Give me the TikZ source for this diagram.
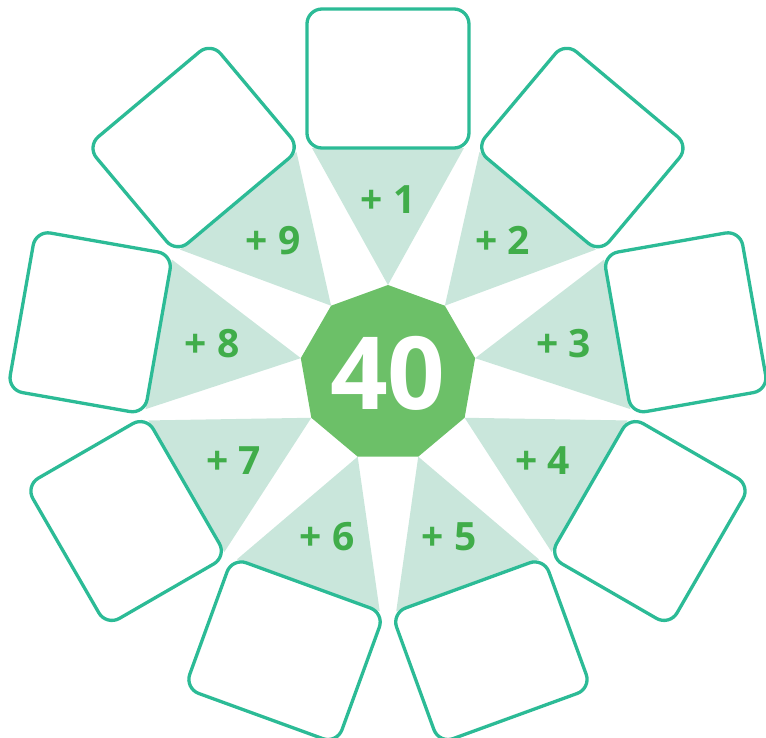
\documentclass[tikz,border=0pt]{standalone}
\usepackage{fontspec}
\setmainfont{Open Sans}
\usepackage{tikz}
\usetikzlibrary{calc, backgrounds, shapes.geometric}

\definecolor{slotteal}{HTML}{2CBB96}
\definecolor{wedgemint}{HTML}{C9E6DB}
\definecolor{hubgreen}{HTML}{6CC068}
\definecolor{taggreen}{HTML}{40AD4A}

\tikzset{
    slot/.style={draw=slotteal, fill=white, line width=3.3pt, rounded corners=15pt,
        minimum width=162pt, minimum height=139pt, inner sep=0pt, outer sep=0pt},
    wedge/.style={fill=wedgemint},
    hub/.style={regular polygon, regular polygon sides=9, minimum size=177pt,
        fill=hubgreen, text=white, inner sep=0pt, outer sep=0pt,
        font=\fontsize{101}{101}\selectfont\bfseries},
    tag/.style={text=taggreen, font=\fontsize{39}{39}\selectfont\bfseries}
}

\begin{document}
\begin{tikzpicture}[x=1.025pt, y=1pt]
    \useasboundingbox (-378.5,-363.5) rectangle (368.8,373.5);
    \node[hub] (hub) at (0,0) {40};
    \foreach \k in {1,...,9} {
        \pgfmathsetmacro{\a}{90-40*(\k-1)}
        \node[slot, rotate=\a-90] (box\k) at (\a:295) {};
        \node[tag] (tag\k) at (\a:174) {+ \k};
        % wedge from hub corner to the inner side of the box
        \begin{scope}[on background layer]
            \fill[wedge] (hub.\a) -- ($(box\k.south west)!5pt!(box\k.south east)$)
                -- ($(box\k.south east)!5pt!(box\k.south west)$) -- cycle;
        \end{scope}
    }
\end{tikzpicture}
\end{document}
